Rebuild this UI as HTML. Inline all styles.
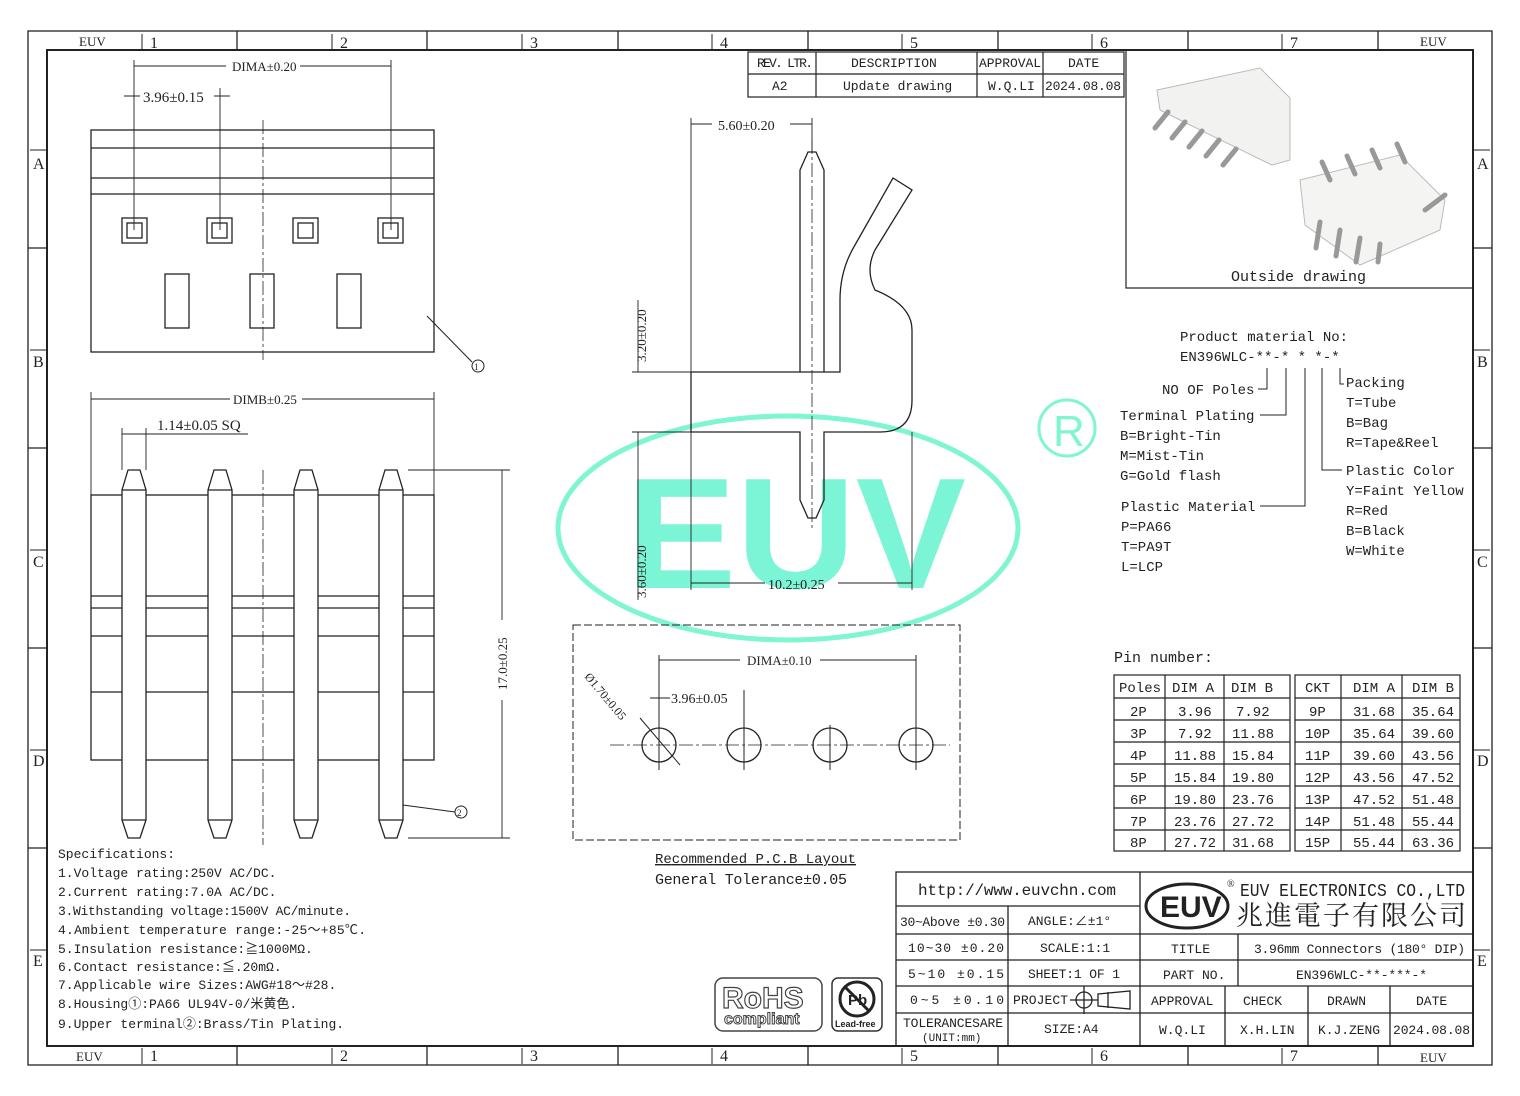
<!DOCTYPE html>
<html><head><meta charset="utf-8"><style>
html,body{margin:0;padding:0;background:#fff;}
svg{display:block;}
text{font-family:"Liberation Serif","Noto Serif CJK SC",serif;fill:#222;}
.s text, text.s{font-family:"Liberation Mono","Noto Sans CJK SC",monospace;}
text.sans{font-family:"Liberation Sans",sans-serif;}
</style></head><body>
<svg width="1520" height="1096" viewBox="0 0 1520 1096" xmlns="http://www.w3.org/2000/svg">
<g fill="none" stroke="#222" stroke-width="1.3">
<rect x="28" y="31" width="1464" height="1034"/>
<rect x="47" y="50" width="1426" height="996" stroke-width="2"/>
<path d="M237 31V50M427 31V50M618 31V50M808 31V50M998 31V50M1188 31V50M1378 31V50M237 1046V1065M427 1046V1065M618 1046V1065M808 1046V1065M998 1046V1065M1188 1046V1065M1378 1046V1065M28 248H47M28 448H47M28 648H47M28 848H47M1473 248H1492M1473 448H1492M1473 648H1492M1473 848H1492"/>
<path d="M142 34V50M332 34V50M522 34V50M712 34V50M902 34V50M1092 34V50M1282 34V50M142 1048V1064M332 1048V1064M522 1048V1064M712 1048V1064M902 1048V1064M1092 1048V1064M1282 1048V1064M30 150H47M30 350H47M30 550H47M30 750H47M30 950H47M1473 150H1490M1473 350H1490M1473 550H1490M1473 750H1490M1473 950H1490" stroke-width="1"/>
</g>
<g font-size="16">
<text x="79" y="46" font-size="13">EUV</text><text x="150" y="48">1</text><text x="340" y="48">2</text><text x="530" y="48">3</text><text x="720" y="48">4</text><text x="910" y="48">5</text><text x="1100" y="48">6</text><text x="1290" y="48">7</text><text x="1420" y="46" font-size="13">EUV</text>
<text x="76" y="1061" font-size="13">EUV</text><text x="150" y="1061">1</text><text x="340" y="1061">2</text><text x="530" y="1061">3</text><text x="720" y="1061">4</text><text x="910" y="1061">5</text><text x="1100" y="1061">6</text><text x="1290" y="1061">7</text><text x="1420" y="1062" font-size="13">EUV</text>
<text x="33" y="169">A</text><text x="33" y="367">B</text><text x="33" y="567">C</text><text x="33" y="766">D</text><text x="33" y="966">E</text>
<text x="1477" y="169">A</text><text x="1477" y="367">B</text><text x="1477" y="567">C</text><text x="1477" y="766">D</text><text x="1477" y="966">E</text>
</g>

<!-- watermark (behind) -->
<ellipse cx="788" cy="528" rx="230" ry="112" fill="none" stroke="#7ff5d2" stroke-width="5"/>
<text class="sans" x="626" y="588" font-weight="bold" font-size="158" style="fill:#7cf5d6" textLength="340" lengthAdjust="spacingAndGlyphs">EUV</text>
<circle cx="1067" cy="428" r="28" fill="none" stroke="#7ff5d2" stroke-width="3"/>
<text class="sans" x="1053" y="446" font-size="44" style="fill:#7ff5d2">R</text>

<!-- top-left view -->
<g fill="none" stroke="#222" stroke-width="1.3">
<rect x="91" y="130" width="343" height="222"/>
<path d="M91 148H434M91 178H434M91 194H434"/>
<rect x="122" y="218" width="25" height="25"/><rect x="127" y="223" width="15" height="15"/>
<rect x="207" y="218" width="25" height="25"/><rect x="212" y="223" width="15" height="15"/>
<rect x="293" y="218" width="25" height="25"/><rect x="298" y="223" width="15" height="15"/>
<rect x="378" y="218" width="25" height="25"/><rect x="383" y="223" width="15" height="15"/>
<rect x="165" y="274" width="24" height="54"/><rect x="250" y="274" width="24" height="54"/><rect x="337" y="274" width="24" height="54"/>
<path d="M263 120V360" stroke-dasharray="14 3 3 3" stroke-width="0.8"/>
<path d="M134 60V230M391 60V230M220 88V230M134 66H226M300 66H391M124 96H140M214 96H230" stroke-width="0.9"/>
<path d="M427 316L472 362" stroke-width="1"/><circle cx="478" cy="366" r="6" stroke-width="1"/>
</g>
<text x="232" y="71" font-size="13">DIMA±0.20</text>
<text x="143" y="102" font-size="15">3.96±0.15</text>
<text x="474" y="370" font-size="9">1</text>

<!-- bottom-left view -->
<g fill="none" stroke="#222" stroke-width="1.3">
<rect x="91" y="495" width="343" height="265"/>
<path d="M91 596H434M91 608H434M91 636H434M91 692H434"/>
<g fill="#fff">
<path d="M122 490L128 470H140L146 490V820L140 838H128L122 820Z"/>
<path d="M208 490L214 470H226L232 490V820L226 838H214L208 820Z"/>
<path d="M294 490L300 470H312L318 490V820L312 838H300L294 820Z"/>
<path d="M379 490L385 470H397L403 490V820L397 838H385L379 820Z"/>
</g>
<path d="M122 490H146M208 490H232M294 490H318M379 490H403M122 820H146M208 820H232M294 820H318M379 820H403"/>
<path d="M263 470V845" stroke-dasharray="14 3 3 3" stroke-width="0.8"/>
<path d="M91 392V495M434 392V495M91 399H230M302 399H434M122 428V470M146 428V470M122 434H146M146 434H248M408 470H510M408 838H510M502 470V620M502 700V838" stroke-width="0.9"/>
<path d="M403 805L455 812" stroke-width="1"/><circle cx="461" cy="812" r="6" stroke-width="1"/>
</g>
<text x="233" y="404" font-size="13">DIMB±0.25</text>
<text x="157" y="430" font-size="15">1.14±0.05 SQ</text>
<text x="507" y="690" font-size="13" transform="rotate(-90 507 690)">17.0±0.25</text>
<text x="457" y="816" font-size="9">2</text>

<!-- side view -->
<g fill="none" stroke="#222" stroke-width="1.3">
<path d="M800 372V170L808 152H816L824 170V372"/>
<path d="M691 372H840V300Q840 270 855 245L893 178L912 190L875 250Q865 270 875 290Q912 305 912 330V400Q912 432 880 432H824V500L816 518H808L800 500V432H691Z"/>
<path d="M812 140V530" stroke-dasharray="14 3 3 3" stroke-width="0.8"/>
<path d="M691 118V372M812 118V152M691 124H712M790 124H812M632 372H691M632 432H691M638 372V300M638 432V600M691 432V590M912 432V590M691 583H765M838 583H912" stroke-width="0.9"/>
</g>
<text x="718" y="130" font-size="14">5.60±0.20</text>
<text x="646" y="362" font-size="13" transform="rotate(-90 646 362)">3.20±0.20</text>
<text x="646" y="598" font-size="13" transform="rotate(-90 646 598)">3.60±0.20</text>
<text x="768" y="589" font-size="14">10.2±0.25</text>

<!-- PCB -->
<g fill="none" stroke="#222" stroke-width="1">
<rect x="573" y="625" width="387" height="215" stroke-dasharray="8 3"/>
<path d="M610 745H950" stroke-dasharray="14 3 3 3" stroke-width="0.8"/>
<circle cx="659" cy="745" r="17" stroke-width="1.3"/><circle cx="744" cy="745" r="17" stroke-width="1.3"/><circle cx="830" cy="745" r="17" stroke-width="1.3"/><circle cx="916" cy="745" r="17" stroke-width="1.3"/>
<path d="M659 655V770M744 690V770M830 725V770M916 655V770M659 660H740M820 660H916M650 698H670M640 718L680 765"/>
</g>
<text x="747" y="665" font-size="13">DIMA±0.10</text>
<text x="671" y="703" font-size="14">3.96±0.05</text>
<text x="584" y="677" font-size="12" transform="rotate(50 584 677)">Ø1.70±0.05</text>
<text class="s" x="655" y="863" font-size="14" text-decoration="underline" textLength="201">Recommended P.C.B Layout</text>
<text class="s" x="655" y="884" font-size="15" textLength="192">General Tolerance±0.05</text>

<!-- revision table -->
<g fill="none" stroke="#222" stroke-width="1.2">
<rect x="748" y="52" width="376" height="45"/><path d="M748 74H1124M816 52V97M977 52V97M1043 52V97"/>
<rect x="1126" y="50" width="347" height="238"/>
</g>
<g font-size="13" class="s">
<text x="757" y="67" textLength="56">REV. LTR.</text><text x="851" y="67">DESCRIPTION</text><text x="979" y="67" textLength="62">APPROVAL</text><text x="1068" y="67">DATE</text>
<text x="772" y="90">A2</text><text x="843" y="90">Update drawing</text><text x="988" y="90">W.Q.LI</text><text x="1045" y="90" textLength="76">2024.08.08</text>
</g>
<!-- photos -->
<g stroke="#bbb" stroke-width="1">
<path d="M1157 90L1260 68L1290 98L1290 160L1272 165L1190 125L1160 110Z" fill="#f2f2f0"/>
<path d="M1300 180L1400 155L1445 200L1440 230L1360 265L1305 225Z" fill="#f4f4f2"/>
</g>
<g stroke="#999" stroke-width="5" stroke-linecap="round">
<path d="M1168 112L1155 128M1185 122L1172 138M1202 131L1189 147M1219 140L1206 156M1236 149L1223 165"/>
<path d="M1330 180L1322 162M1355 174L1347 156M1380 168L1372 150M1405 162L1397 144M1320 222L1316 248M1340 230L1336 256M1360 238L1356 262M1380 244L1378 262M1425 210L1445 195"/>
</g>
<text x="1231" y="281" font-size="15" class="s">Outside drawing</text>

<!-- product code -->
<g font-size="14" class="s">
<text x="1180" y="341">Product material No:</text>
<text x="1180" y="361">EN396WLC-**-* * *-*</text>
<text x="1162" y="394">NO OF Poles</text>
<text x="1120" y="420">Terminal Plating</text>
<text x="1120" y="440">B=Bright-Tin</text><text x="1120" y="460">M=Mist-Tin</text><text x="1120" y="480">G=Gold flash</text>
<text x="1121" y="511">Plastic Material</text>
<text x="1121" y="531">P=PA66</text><text x="1121" y="551">T=PA9T</text><text x="1121" y="571">L=LCP</text>
<text x="1346" y="387">Packing</text><text x="1346" y="407">T=Tube</text><text x="1346" y="427">B=Bag</text><text x="1346" y="447">R=Tape&amp;Reel</text>
<text x="1346" y="475">Plastic Color</text><text x="1346" y="495">Y=Faint Yellow</text><text x="1346" y="515">R=Red</text><text x="1346" y="535">B=Black</text><text x="1346" y="555">W=White</text>
<text x="1114" y="662" font-size="15">Pin number:</text>
</g>
<g fill="none" stroke="#222" stroke-width="1">
<path d="M1258 389H1267V368M1260 415H1286V368M1260 506H1305V368M1322 368V470H1342M1340 368V384H1344"/>
</g>

<!-- pin tables -->
<g fill="none" stroke="#222" stroke-width="1.2">
<rect x="1114" y="675" width="176" height="176"/><rect x="1295" y="675" width="165" height="176"/>
<path d="M1165 675V851M1224 675V851M1341 675V851M1402 675V851"/>
<path d="M1114 698H1290M1114 720H1290M1114 742H1290M1114 764H1290M1114 786H1290M1114 808H1290M1114 830H1290M1295 698H1460M1295 720H1460M1295 742H1460M1295 764H1460M1295 786H1460M1295 808H1460M1295 830H1460"/>
</g>
<g font-size="14" class="s">
<text x="1119" y="692">Poles</text><text x="1172" y="692">DIM A</text><text x="1231" y="692">DIM B</text>
<text x="1130" y="716">2P</text><text x="1178" y="716">3.96</text><text x="1236" y="716">7.92</text>
<text x="1130" y="738">3P</text><text x="1178" y="738">7.92</text><text x="1232" y="738">11.88</text>
<text x="1130" y="760">4P</text><text x="1174" y="760">11.88</text><text x="1232" y="760">15.84</text>
<text x="1130" y="782">5P</text><text x="1174" y="782">15.84</text><text x="1232" y="782">19.80</text>
<text x="1130" y="804">6P</text><text x="1174" y="804">19.80</text><text x="1232" y="804">23.76</text>
<text x="1130" y="826">7P</text><text x="1174" y="826">23.76</text><text x="1232" y="826">27.72</text>
<text x="1130" y="847">8P</text><text x="1174" y="847">27.72</text><text x="1232" y="847">31.68</text>
<text x="1305" y="692">CKT</text><text x="1353" y="692">DIM A</text><text x="1412" y="692">DIM B</text>
<text x="1309" y="716">9P</text><text x="1353" y="716">31.68</text><text x="1412" y="716">35.64</text>
<text x="1305" y="738">10P</text><text x="1353" y="738">35.64</text><text x="1412" y="738">39.60</text>
<text x="1305" y="760">11P</text><text x="1353" y="760">39.60</text><text x="1412" y="760">43.56</text>
<text x="1305" y="782">12P</text><text x="1353" y="782">43.56</text><text x="1412" y="782">47.52</text>
<text x="1305" y="804">13P</text><text x="1353" y="804">47.52</text><text x="1412" y="804">51.48</text>
<text x="1305" y="826">14P</text><text x="1353" y="826">51.48</text><text x="1412" y="826">55.44</text>
<text x="1305" y="847">15P</text><text x="1353" y="847">55.44</text><text x="1412" y="847">63.36</text>
</g>

<!-- specs -->
<g font-size="13" class="s">
<text x="58" y="858">Specifications:</text>
<text x="58" y="877">1.Voltage rating:250V AC/DC.</text>
<text x="58" y="896">2.Current rating:7.0A AC/DC.</text>
<text x="58" y="915" textLength="293">3.Withstanding voltage:1500V AC/minute.</text>
<text x="58" y="934" textLength="308">4.Ambient temperature range:-25～+85℃.</text>
<text x="58" y="953">5.Insulation resistance:≧1000MΩ.</text>
<text x="58" y="971">6.Contact resistance:≦.20mΩ.</text>
<text x="58" y="989">7.Applicable wire Sizes:AWG#18～#28.</text>
<text x="58" y="1008">8.Housing①:PA66 UL94V-0/米黄色.</text>
<text x="58" y="1028">9.Upper terminal②:Brass/Tin Plating.</text>
</g>

<!-- RoHS / Pb -->
<rect x="715" y="978" width="107" height="53" rx="8" fill="none" stroke="#444" stroke-width="1.5"/>
<text class="sans" x="722" y="1008" font-size="30" font-weight="bold" stroke="#444" stroke-width="1.2" style="fill:#fff">RoHS</text>
<text class="sans" x="724" y="1024" font-size="16" font-weight="bold" style="fill:#fff" stroke="#444" stroke-width="1">compliant</text>
<rect x="832" y="978" width="50" height="53" rx="6" fill="none" stroke="#333" stroke-width="1.5"/>
<circle cx="857" cy="999" r="17" fill="none" stroke="#222" stroke-width="3"/>
<path d="M845 987L869 1011" stroke="#222" stroke-width="3"/>
<text class="sans" x="848" y="1005" font-size="15" font-weight="bold">Pb</text>
<text class="sans" x="835" y="1027" font-size="9" font-weight="bold">Lead-free</text>

<!-- title block -->
<g fill="none" stroke="#222" stroke-width="1.3">
<rect x="896" y="872" width="577" height="174"/>
<path d="M1140 872V1046M896 906H1140M896 934H1473M896 960H1473M896 986H1473M896 1013H1473M1008 906V1046M1238 934V986M1225 986V1046M1308 986V1046M1390 986V1046"/>
<ellipse cx="1187" cy="906" rx="41" ry="22" stroke-width="3"/>
<circle cx="1084" cy="1000" r="8"/><path d="M1070 1000H1098M1084 986V1014M1098 994L1130 991V1009L1098 1006Z"/><path d="M1108 992V1008"/>
</g>
<text class="sans" x="1160" y="917" font-weight="bold" font-size="30">EUV</text>
<text x="1227" y="887" font-size="10">®</text>
<text x="1240" y="896" font-size="18" class="s" textLength="225" lengthAdjust="spacingAndGlyphs">EUV ELECTRONICS CO.,LTD</text>
<text x="1236" y="925" font-size="27" textLength="230">兆進電子有限公司</text>
<g font-size="13" class="s">
<text x="918" y="895" font-size="16" textLength="198">http://www.euvchn.com</text>
<text x="900" y="926" textLength="105">30~Above ±0.30</text><text x="1028" y="925">ANGLE:∠±1°</text>
<text x="908" y="952" textLength="96">10~30  ±0.20</text><text x="1040" y="952">SCALE:1:1</text>
<text x="908" y="978" textLength="96">5~10   ±0.15</text><text x="1028" y="978" textLength="92">SHEET:1 OF 1</text>
<text x="910" y="1004" textLength="94">0~5    ±0.10</text><text x="1013" y="1004" textLength="55">PROJECT</text>
<text x="903" y="1027" textLength="100">TOLERANCESARE</text><text x="922" y="1041" font-size="11">(UNIT:mm)</text><text x="1044" y="1033">SIZE:A4</text>
<text x="1171" y="953">TITLE</text><text x="1254" y="953" textLength="211">3.96mm Connectors (180° DIP)</text>
<text x="1163" y="979">PART NO.</text><text x="1296" y="979" textLength="131">EN396WLC-**-***-*</text>
<text x="1151" y="1005">APPROVAL</text><text x="1243" y="1005">CHECK</text><text x="1327" y="1005">DRAWN</text><text x="1416" y="1005">DATE</text>
<text x="1159" y="1034">W.Q.LI</text><text x="1240" y="1034">X.H.LIN</text><text x="1318" y="1034" textLength="62">K.J.ZENG</text><text x="1393" y="1034" textLength="77">2024.08.08</text>
</g>
</svg>
</body></html>
